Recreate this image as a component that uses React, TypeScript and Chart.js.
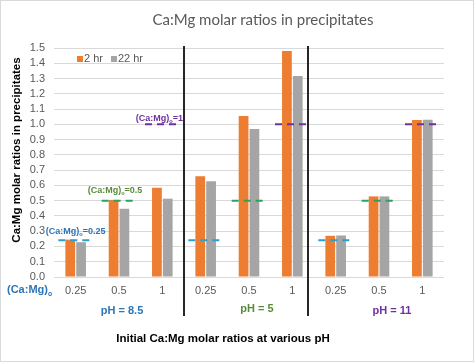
import React, { useEffect, useRef } from "react";
import { Chart, registerables } from "chart.js";

Chart.register(...registerables);

// ---------- data ----------
const categories = ["0.25", "0.5", "1", "0.25", "0.5", "1", "0.25", "0.5", "1"];
const groupLabels = ["pH = 8.5", "pH = 5", "pH = 11"];
const seriesNames = ["2 hr", "22 hr"];
const values2hr = [0.245, 0.505, 0.585, 0.66, 1.055, 1.48, 0.27, 0.528, 1.028];
const values22hr = [0.228, 0.447, 0.513, 0.627, 0.97, 1.317, 0.272, 0.528, 1.03];
const refValues = [0.24, 0.5, 1.0, 0.24, 0.5, 1.0, 0.24, 0.5, 1.0];
const refLabelTexts = ["=0.25", "=0.5", "=1"];
const separatorsAt = [2.5, 5.37];
const yMin = 0;
const yMax = 1.5;
const yStep = 0.1;

const titleText = "Ca:Mg molar ratios in precipitates";
const yTitleText = "Ca:Mg molar ratios in precipitates";
const xTitleText = "Initial Ca:Mg molar ratios at various pH";

// ---------- styles ----------
const ORANGE = "#ED7D31";
const GREY = "#A5A5A5";
const TEXT = "#595959";
const GRID = "#D9D9D9";
const BLUE_TXT = "#2E75B6";
const BLUE_DASH = "#2A9FD0";
const GREEN_TXT = "#5B8B3A";
const GREEN_DASH = "#2FA064";
const PURPLE = "#7030A0";
const ARIAL = "'Liberation Sans', Arial, sans-serif";
const refColors = [BLUE_DASH, GREEN_DASH, PURPLE];
const refTextColors = [BLUE_TXT, GREEN_TXT, PURPLE];
const groupColors = [BLUE_TXT, GREEN_TXT, PURPLE];

function drawCaMg(
  ctx: CanvasRenderingContext2D,
  x: number,
  y: number,
  size: number,
  color: string,
  suffix: string,
  align: "left" | "center"
) {
  ctx.save();
  ctx.fillStyle = color;
  ctx.textBaseline = "middle";
  ctx.textAlign = "left";
  const big = `bold ${size}px ${ARIAL}`;
  const small = `bold ${size * 0.62}px ${ARIAL}`;
  ctx.font = big;
  const w1 = ctx.measureText("(Ca:Mg)").width;
  const w3 = suffix ? ctx.measureText(suffix).width : 0;
  ctx.font = small;
  const w2 = ctx.measureText("o").width;
  const total = w1 + w2 + w3;
  let sx = align === "center" ? x - total / 2 : x;
  ctx.font = big;
  ctx.fillText("(Ca:Mg)", sx, y);
  sx += w1;
  ctx.font = small;
  ctx.fillText("o", sx, y + size * 0.35);
  sx += w2;
  if (suffix) {
    ctx.font = big;
    ctx.fillText(suffix, sx, y);
  }
  ctx.restore();
}

const decorPlugin = {
  id: "decor",
  beforeDraw(chart: any) {
    const { ctx, width, height } = chart;
    ctx.save();
    ctx.fillStyle = "#ffffff";
    ctx.fillRect(0, 0, width, height);
    ctx.strokeStyle = "#D9D9D9";
    ctx.lineWidth = 1;
    ctx.strokeRect(0.5, 0.5, width - 1, height - 2);
    ctx.restore();
  },
  afterDatasetsDraw(chart: any) {
    const { ctx } = chart;
    const xs = chart.scales.x;
    const ys = chart.scales.y;
    // reference dashed lines
    ctx.save();
    ctx.lineWidth = 2;
    ctx.setLineDash([7, 5]);
    refValues.forEach((v, i) => {
      const y = ys.getPixelForValue(v);
      const x0 = xs.getPixelForValue(i - 0.4);
      const x1 = xs.getPixelForValue(i + 0.38);
      ctx.strokeStyle = refColors[i % 3];
      ctx.beginPath();
      ctx.moveTo(x0, y);
      ctx.lineTo(x1, y);
      ctx.stroke();
    });
    ctx.restore();
    // group separators
    ctx.save();
    ctx.strokeStyle = "#262626";
    ctx.lineWidth = 2;
    separatorsAt.forEach((p) => {
      const x = Math.round(xs.getPixelForValue(p));
      ctx.beginPath();
      ctx.moveTo(x, chart.chartArea.top - 2);
      ctx.lineTo(x, 316);
      ctx.stroke();
    });
    ctx.restore();
  },
  afterDraw(chart: any) {
    const { ctx } = chart;
    const xs = chart.scales.x;
    const ys = chart.scales.y;
    const area = chart.chartArea;

    // title
    ctx.save();
    ctx.fillStyle = TEXT;
    ctx.font = `15px Lato, 'Open Sans', sans-serif`;
    ctx.textAlign = "center";
    ctx.textBaseline = "middle";
    ctx.fillText(titleText, 263, 20);
    ctx.restore();

    // legend
    ctx.save();
    ctx.font = `11px ${ARIAL}`;
    ctx.textBaseline = "middle";
    ctx.textAlign = "left";
    let lx = 77;
    const ly = 59;
    [ORANGE, GREY].forEach((c, i) => {
      ctx.fillStyle = c;
      ctx.fillRect(lx, ly - 3, 6, 6);
      ctx.fillStyle = TEXT;
      ctx.fillText(seriesNames[i], lx + 7, ly);
      lx += 7 + ctx.measureText(seriesNames[i]).width + 8;
    });
    ctx.restore();

    // y title
    ctx.save();
    ctx.translate(17, 150);
    ctx.rotate(-Math.PI / 2);
    ctx.font = `bold 11.5px ${ARIAL}`;
    ctx.fillStyle = "#000000";
    ctx.textAlign = "center";
    ctx.textBaseline = "middle";
    ctx.fillText(yTitleText, 0, 0);
    ctx.restore();

    // x title
    ctx.save();
    ctx.font = `bold 11.5px ${ARIAL}`;
    ctx.fillStyle = "#000000";
    ctx.textAlign = "center";
    ctx.textBaseline = "middle";
    ctx.fillText(xTitleText, 223, 339);
    ctx.restore();

    // axis prefix label
    drawCaMg(ctx, 7, area.bottom + 13, 11, BLUE_TXT, "", "left");

    // group labels
    const groupOffsets = [3, 8, 13];
    const groupY = [311, 309, 311];
    ctx.save();
    ctx.font = `bold 11px ${ARIAL}`;
    ctx.textAlign = "center";
    ctx.textBaseline = "middle";
    groupLabels.forEach((g, i) => {
      ctx.fillStyle = groupColors[i];
      ctx.fillText(g, xs.getPixelForValue(i * 3 + 1) + groupOffsets[i], groupY[i]);
    });
    ctx.restore();

    // reference labels (first group only)
    const labelDx = [0, -4, -3];
    const labelDy = [9, 10, 6];
    refLabelTexts.forEach((t, i) => {
      const x = xs.getPixelForValue(i) + labelDx[i];
      const y = ys.getPixelForValue(refValues[i]) - labelDy[i];
      drawCaMg(ctx, x, y, 9, refTextColors[i], t, "center");
    });
  },
};

export default function App() {
  const canvasRef = useRef<HTMLCanvasElement | null>(null);

  useEffect(() => {
    if (!canvasRef.current) return;
    const chart = new Chart(canvasRef.current, {
      type: "bar",
      data: {
        labels: categories,
        datasets: [
          {
            label: seriesNames[0],
            data: values2hr,
            backgroundColor: ORANGE,
            categoryPercentage: 0.5,
            barPercentage: 0.9,
          },
          {
            label: seriesNames[1],
            data: values22hr,
            backgroundColor: GREY,
            categoryPercentage: 0.5,
            barPercentage: 0.9,
          },
        ],
      },
      options: {
        animation: false,
        responsive: false,
        layout: { padding: { left: 0, top: 48, right: 30, bottom: 0 } },
        plugins: {
          legend: { display: false },
          title: { display: false },
          tooltip: { enabled: false },
        },
        scales: {
          x: {
            grid: { display: false, drawTicks: false },
            border: { display: false },
            ticks: {
              color: TEXT,
              font: { family: ARIAL, size: 11 },
              padding: 7,
              maxRotation: 0,
              autoSkip: false,
            },
            afterFit: (scale: any) => {
              scale.height = 86;
            },
          },
          y: {
            min: yMin,
            max: yMax,
            grid: { color: GRID, lineWidth: 1, drawTicks: false },
            border: { display: false },
            ticks: {
              stepSize: yStep,
              autoSkip: false,
              color: TEXT,
              font: { family: ARIAL, size: 11 },
              padding: 9,
              callback: (v: any) => Number(v).toFixed(1),
            },
            afterFit: (scale: any) => {
              scale.width = 54;
            },
          },
        },
      },
      plugins: [decorPlugin],
    });
    return () => chart.destroy();
  }, []);

  return (
    <div style={{ position: "absolute", left: 0, top: 0, width: 474, height: 363 }}>
      <canvas ref={canvasRef} width={474} height={363} style={{ display: "block" }} />
    </div>
  );
}
